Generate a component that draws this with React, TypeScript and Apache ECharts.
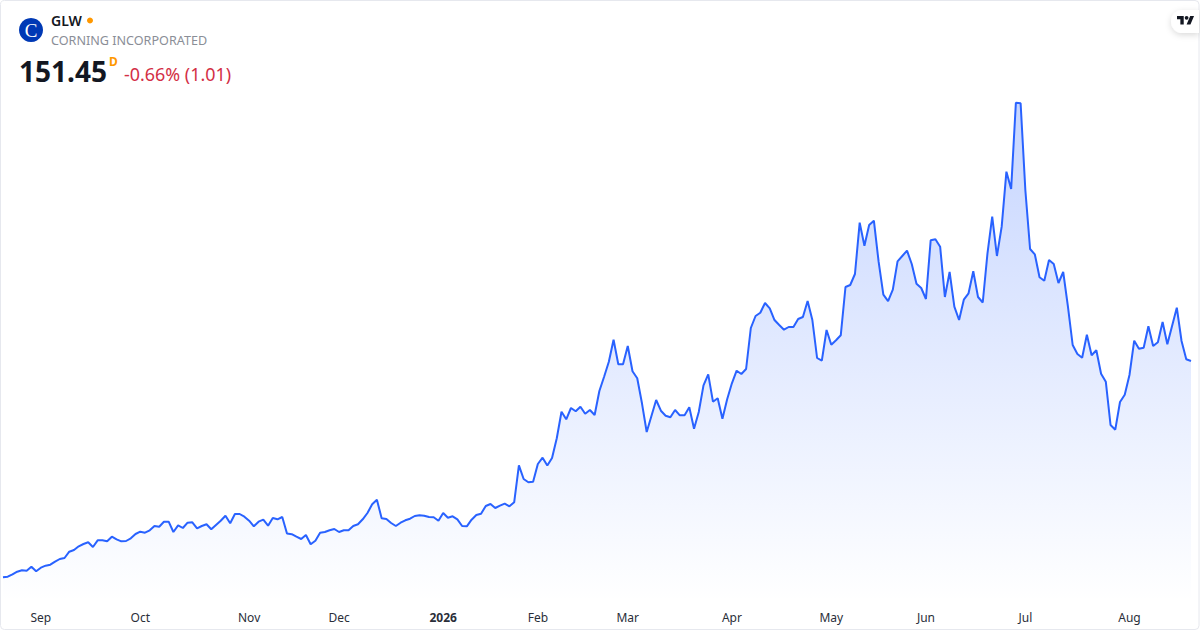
import React, { useEffect, useRef } from "react";
import * as echarts from "echarts";

const prices = [
  64.93, 65.17, 66.13, 67.17, 67.73, 67.57, 69.17, 67.33, 68.77, 69.57,
  69.97, 71.17, 72.25, 72.65, 75.17, 75.85, 77.33, 78.25, 78.93, 77.05,
  79.73, 79.73, 79.33, 81.17, 80.13, 79.33, 79.45, 80.53, 82.25, 83.17,
  82.77, 83.73, 85.45, 85.17, 87.17, 87.17, 83.05, 85.73, 84.65, 86.77,
  86.93, 84.53, 85.45, 86.13, 84.13, 85.85, 87.57, 89.57, 86.53, 90.25,
  90.25, 89.17, 87.57, 85.33, 87.17, 87.97, 85.57, 88.65, 88.13, 89.05,
  82.45, 82.17, 81.17, 80.25, 81.85, 78.13, 79.57, 82.77, 83.05, 83.73,
  84.25, 83.05, 83.73, 83.73, 85.45, 86.13, 88.13, 90.65, 94.13, 95.97,
  88.53, 88.25, 86.65, 85.45, 86.77, 87.73, 88.37, 89.45, 89.73, 89.57,
  89.05, 88.93, 87.57, 90.65, 88.77, 89.33, 88.13, 85.45, 85.33, 87.97,
  89.85, 90.37, 93.45, 94.25, 92.65, 93.57, 94.37, 93.33, 94.93, 109.73,
  104.25, 102.93, 103.17, 110.25, 112.77, 109.65, 112.65, 120.53, 131.17, 128.13,
  132.65, 131.33, 133.17, 130.33, 131.85, 129.85, 139.45, 145.17, 151.17, 159.97,
  150.13, 150.13, 157.45, 147.33, 144.53, 134.53, 123.05, 129.45, 135.85, 131.57,
  129.57, 128.93, 131.85, 129.73, 129.73, 132.93, 124.37, 131.05, 141.73, 146.13,
  135.17, 136.53, 128.37, 136.13, 142.53, 147.57, 146.25, 148.25, 164.65, 169.45,
  170.77, 174.65, 172.53, 167.85, 165.85, 163.97, 165.05, 165.05, 168.25, 169.05,
  175.45, 167.85, 152.65, 151.57, 163.85, 157.97, 159.73, 161.73, 181.05, 181.85,
  186.25, 206.77, 197.57, 205.85, 207.57, 191.17, 177.97, 175.37, 179.97, 191.33,
  193.45, 195.57, 190.25, 182.37, 180.65, 176.25, 199.73, 200.13, 197.17, 177.05,
  187.05, 173.17, 167.85, 175.97, 178.53, 187.33, 177.05, 174.85, 194.53, 209.17,
  193.45, 205.17, 227.17, 220.25, 254.77, 254.53, 219.85, 196.25, 194.13, 184.93,
  183.57, 191.85, 190.25, 182.65, 187.05, 173.17, 157.85, 154.25, 152.77, 161.97,
  153.73, 155.73, 146.37, 143.17, 125.85, 123.97, 135.05, 137.97, 145.85, 159.57,
  156.37, 156.77, 165.37, 157.45, 158.93, 167.05, 158.13, 165.45, 172.77, 159.45,
  152.13, 151.45,
];

const monthLabels = ["Sep", "Oct", "Nov", "Dec", "2026", "Feb", "Mar", "Apr", "May", "Jun", "Jul", "Aug"];
const monthStarts = [8, 29, 52, 71, 93, 113, 132, 154, 175, 195, 216, 238];

const FONT = '"Noto Sans", "Open Sans", sans-serif';
const TV_LOGO = "M14 22H7V11H0V4h14v18zM28 22h-8l7.5-18h8L28 22zM24 8a4 4 0 1 1-8 0 4 4 0 0 1 8 0z";
echarts.graphic.registerShape("tvlogo", echarts.graphic.extendPath(TV_LOGO, {}) as any);

export default function App() {
  const ref = useRef<HTMLDivElement>(null);
  useEffect(() => {
    document.body.style.margin = "0";
    const chart = echarts.init(ref.current!, undefined, { renderer: "svg" });
    const categories = prices.map((_, i) => {
      const m = monthStarts.indexOf(i);
      return m >= 0 ? monthLabels[m] : String(i);
    });
    chart.setOption({
      animation: false,
      backgroundColor: "#ffffff",
      grid: { left: 3, right: 9, top: 0, bottom: 28, containLabel: false },
      xAxis: {
        type: "category",
        data: categories,
        boundaryGap: false,
        axisLine: { show: false },
        axisTick: { show: false },
        splitLine: { show: false },
        axisLabel: {
          interval: (i: number) => monthStarts.includes(i),
          margin: 9,
          fontFamily: FONT,
          fontSize: 12,
          color: "#2a2e39",
          fontWeight: "normal",
          formatter: (v: string) => (v === "2026" ? "{b|2026}" : v),
          rich: { b: { fontFamily: FONT, fontSize: 12, fontWeight: "bold", color: "#2a2e39" } },
        },
      },
      yAxis: { type: "value", show: false, min: 55.05, max: 295.85, splitLine: { show: false } },
      series: [
        {
          type: "line",
          data: prices,
          symbol: "none",
          smooth: false,
          lineStyle: { color: "#2962ff", width: 2 },
          itemStyle: { color: "#2962ff" },
          areaStyle: {
            color: new echarts.graphic.LinearGradient(0, 0, 0, 1, [
              { offset: 0, color: "rgba(41,98,255,0.38)" },
              { offset: 1, color: "rgba(41,98,255,0)" },
            ]),
          },
        },
      ],
      graphic: [
        {
          type: "rect",
          silent: true,
          z: 50,
          shape: { x: 0.5, y: 0.5, width: 1198.5, height: 629, r: 4 },
          style: { fill: "none", stroke: "#e6e8ee", lineWidth: 1 },
        },
        { type: "circle", z: 60, shape: { cx: 31, cy: 30, r: 12 }, style: { fill: "#0039b5" } },
        {
          type: "text", z: 61, x: 31, y: 30,
          style: { text: "C", fill: "#ffffff", font: '19px "Liberation Serif", serif', align: "center", verticalAlign: "middle" },
        },
        {
          type: "text", z: 61, x: 51, y: 20,
          style: { text: "GLW", fill: "#131722", font: `600 14px ${FONT}`, verticalAlign: "middle" },
        },
        { type: "circle", z: 60, shape: { cx: 90, cy: 20.5, r: 3 }, style: { fill: "#ff9800" } },
        {
          type: "text", z: 61, x: 51, y: 40.5,
          style: { text: "CORNING INCORPORATED", fill: "#8a8e97", font: `12.6px ${FONT}`, verticalAlign: "middle" },
        },
        {
          type: "text", z: 61, x: 19, y: 70.5,
          style: { text: "151.45", fill: "#131722", font: `700 28px ${FONT}`, verticalAlign: "middle" },
        },
        {
          type: "text", z: 61, x: 109, y: 61,
          style: { text: "D", fill: "#ff9800", font: `700 12px ${FONT}`, verticalAlign: "middle" },
        },
        {
          type: "text", z: 61, x: 124, y: 74,
          style: { text: "-0.66% (1.01)", fill: "#d32f45", font: `17.9px ${FONT}`, verticalAlign: "middle" },
        },
        {
          type: "rect", z: 60,
          shape: { x: 1171, y: 10, width: 28, height: 23, r: [11.5, 0, 0, 11.5] },
          style: { fill: "#ffffff", shadowBlur: 6, shadowOffsetY: 2, shadowColor: "rgba(0,0,0,0.15)" },
        },
        {
          type: "tvlogo", z: 61, x: 1177, y: 14, scaleX: 0.48, scaleY: 0.48,
          style: { fill: "#131722" },
        },
      ],
    });
    return () => chart.dispose();
  }, []);
  return <div ref={ref} style={{ width: 1200, height: 630 }} />;
}
